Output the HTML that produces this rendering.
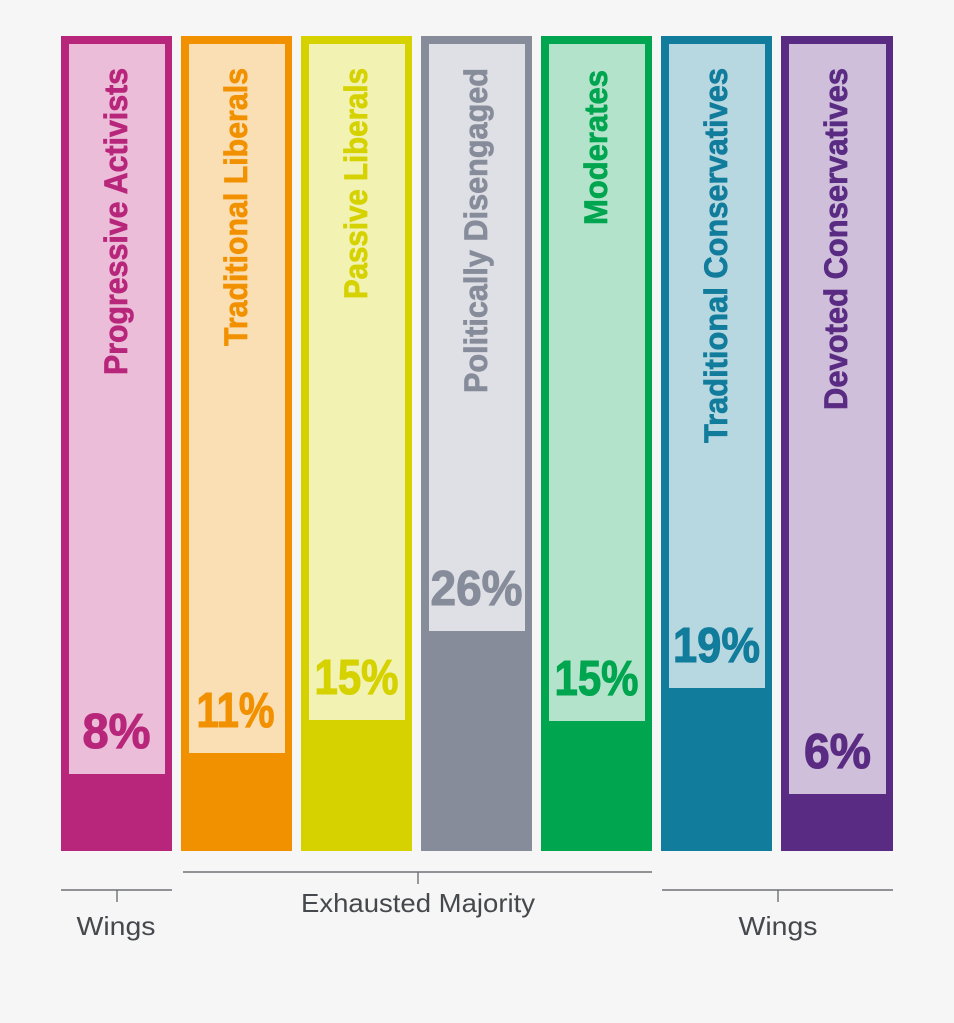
<!DOCTYPE html>
<html>
<head>
<meta charset="utf-8">
<style>
  html, body { margin: 0; padding: 0; background: #f5f6f5; }
  svg { display: block; }
  .lbl { font-family: "Liberation Sans", sans-serif; font-weight: bold; font-size: 32px; stroke-width: 0.7; }
  .pct { font-family: "Liberation Sans", sans-serif; font-weight: bold; font-size: 49px; stroke-width: 1.1; }
  .bot { font-family: "Liberation Sans", sans-serif; font-size: 26px; fill: #45494d; }
</style>
</head>
<body>
<svg width="954" height="1023" viewBox="0 0 954 1023" xmlns="http://www.w3.org/2000/svg">
  <rect x="0" y="0" width="954" height="1023" fill="#f5f6f5"/>

  <!-- Bar 1: Progressive Activists -->
  <rect x="61" y="36" width="111" height="815" fill="#b8267b"/>
  <rect x="69" y="44" width="96" height="730" fill="#ebbdd8"/>
  <text class="lbl" transform="translate(127,68) rotate(-90)" text-anchor="end" fill="#b8267b" stroke="#b8267b" textLength="307" lengthAdjust="spacingAndGlyphs">Progressive Activists</text>
  <text class="pct" x="116.5" y="748" text-anchor="middle" fill="#b8267b" stroke="#b8267b" textLength="68" lengthAdjust="spacingAndGlyphs">8%</text>

  <!-- Bar 2: Traditional Liberals -->
  <rect x="181" y="36" width="111" height="815" fill="#f29100"/>
  <rect x="189" y="44" width="96" height="709" fill="#fbdfb4"/>
  <text class="lbl" transform="translate(247,68) rotate(-90)" text-anchor="end" fill="#f29100" stroke="#f29100" textLength="278" lengthAdjust="spacingAndGlyphs">Traditional Liberals</text>
  <text class="pct" x="235.5" y="727" text-anchor="middle" fill="#f29100" stroke="#f29100" textLength="78" lengthAdjust="spacingAndGlyphs">11%</text>

  <!-- Bar 3: Passive Liberals -->
  <rect x="301" y="36" width="111" height="815" fill="#d5d200"/>
  <rect x="309" y="44" width="96" height="676" fill="#f2f2b2"/>
  <text class="lbl" transform="translate(367,68) rotate(-90)" text-anchor="end" fill="#d5d200" stroke="#d5d200" textLength="231" lengthAdjust="spacingAndGlyphs">Passive Liberals</text>
  <text class="pct" x="356.5" y="694" text-anchor="middle" fill="#d5d200" stroke="#d5d200" textLength="84" lengthAdjust="spacingAndGlyphs">15%</text>

  <!-- Bar 4: Politically Disengaged -->
  <rect x="421" y="36" width="111" height="815" fill="#878c9b"/>
  <rect x="429" y="44" width="96" height="587" fill="#dfe0e5"/>
  <text class="lbl" transform="translate(487,68) rotate(-90)" text-anchor="end" fill="#878c9b" stroke="#878c9b" textLength="325" lengthAdjust="spacingAndGlyphs">Politically Disengaged</text>
  <text class="pct" x="476.5" y="605" text-anchor="middle" fill="#878c9b" stroke="#878c9b" textLength="92" lengthAdjust="spacingAndGlyphs">26%</text>

  <!-- Bar 5: Moderates -->
  <rect x="541" y="36" width="111" height="815" fill="#00a54f"/>
  <rect x="549" y="44" width="96" height="677" fill="#b3e4cb"/>
  <text class="lbl" transform="translate(607,70) rotate(-90)" text-anchor="end" fill="#00a54f" stroke="#00a54f" textLength="155" lengthAdjust="spacingAndGlyphs">Moderates</text>
  <text class="pct" x="596.5" y="695" text-anchor="middle" fill="#00a54f" stroke="#00a54f" textLength="84" lengthAdjust="spacingAndGlyphs">15%</text>

  <!-- Bar 6: Traditional Conservatives -->
  <rect x="661" y="36" width="111" height="815" fill="#117c9b"/>
  <rect x="669" y="44" width="96" height="644" fill="#b7d8e1"/>
  <text class="lbl" transform="translate(727,68) rotate(-90)" text-anchor="end" fill="#117c9b" stroke="#117c9b" textLength="375" lengthAdjust="spacingAndGlyphs">Traditional Conservatives</text>
  <text class="pct" x="716.5" y="662" text-anchor="middle" fill="#117c9b" stroke="#117c9b" textLength="87" lengthAdjust="spacingAndGlyphs">19%</text>

  <!-- Bar 7: Devoted Conservatives -->
  <rect x="781" y="36" width="112" height="815" fill="#5a2b82"/>
  <rect x="789" y="44" width="97" height="750" fill="#cfbfdb"/>
  <text class="lbl" transform="translate(847,68) rotate(-90)" text-anchor="end" fill="#5a2b82" stroke="#5a2b82" textLength="342" lengthAdjust="spacingAndGlyphs">Devoted Conservatives</text>
  <text class="pct" x="837.5" y="768" text-anchor="middle" fill="#5a2b82" stroke="#5a2b82" textLength="67" lengthAdjust="spacingAndGlyphs">6%</text>

  <!-- Brackets -->
  <g stroke="#6e7176" stroke-width="1.4" fill="none">
    <line x1="61" y1="890" x2="172" y2="890"/>
    <line x1="117" y1="890" x2="117" y2="902"/>
    <line x1="183" y1="872" x2="652" y2="872"/>
    <line x1="418" y1="872" x2="418" y2="884"/>
    <line x1="662" y1="890" x2="893" y2="890"/>
    <line x1="778" y1="890" x2="778" y2="902"/>
  </g>

  <text class="bot" x="418" y="912" text-anchor="middle" textLength="234" lengthAdjust="spacingAndGlyphs">Exhausted Majority</text>
  <text class="bot" x="116" y="935" text-anchor="middle" textLength="79" lengthAdjust="spacingAndGlyphs">Wings</text>
  <text class="bot" x="778" y="935" text-anchor="middle" textLength="79" lengthAdjust="spacingAndGlyphs">Wings</text>
</svg>
</body>
</html>
